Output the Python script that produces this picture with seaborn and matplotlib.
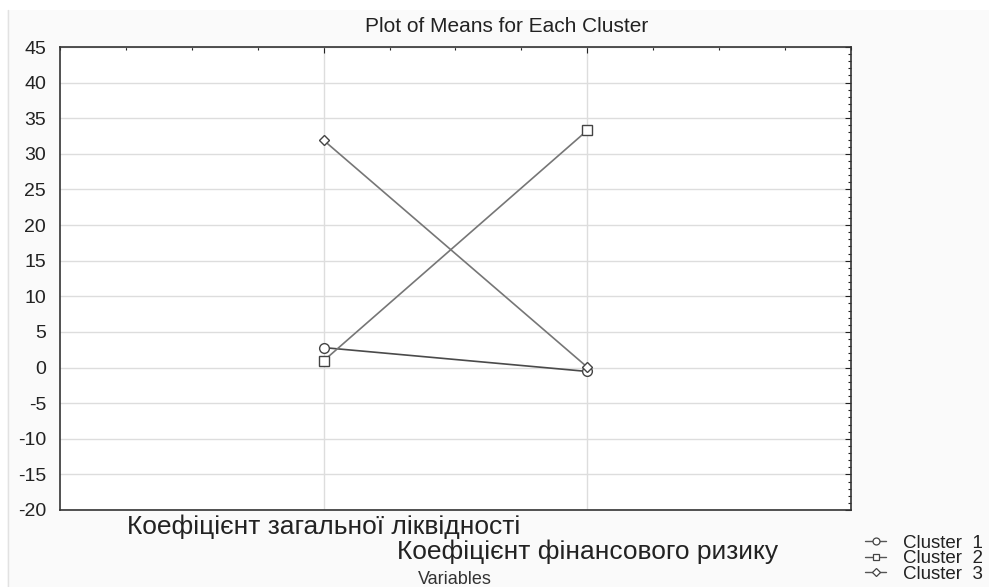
import numpy as np
import pandas as pd
import matplotlib
matplotlib.use('Agg')
import matplotlib.pyplot as plt
import matplotlib.transforms as mtransforms
from matplotlib.ticker import MultipleLocator
from matplotlib.patches import Rectangle
from matplotlib.lines import Line2D
import seaborn as sns

variables = ['Коефіцієнт загальної ліквідності', 'Коефіцієнт фінансового ризику']
clusters = ['Cluster  1', 'Cluster  2', 'Cluster  3']
cluster1 = [2.8, -0.55]
cluster2 = [0.95, 33.3]
cluster3 = [31.9, 0.05]
markers = ['o', 's', 'D']
line_colors = ['#4a4a4a', '#767676', '#767676']

sns.set_style('white')
plt.rcParams['font.family'] = ['Liberation Sans', 'DejaVu Sans']
plt.rcParams['axes.unicode_minus'] = False

rows = []
for name, vals in zip(clusters, [cluster1, cluster2, cluster3]):
    for i, v in enumerate(vals):
        rows.append({'cluster': name, 'pos': i, 'mean': v})
df = pd.DataFrame(rows)

W, H = 989, 587
fig = plt.figure(figsize=(W / 100, H / 100), dpi=100, facecolor='#fafafa')
# white strips at the top and left edge of the screenshot
fig.patches.append(Rectangle((0, 1 - 10 / H), 1, 10 / H, transform=fig.transFigure,
                             facecolor='white', edgecolor='none', zorder=0))
fig.patches.append(Rectangle((0, 0), 7 / W, 1, transform=fig.transFigure,
                             facecolor='white', edgecolor='none', zorder=0))
fig.lines.append(plt.Line2D([7.5 / W, 7.5 / W], [0, 1 - 10 / H], transform=fig.transFigure,
                            color='#e2e2e2', linewidth=1))

ax = fig.add_axes([60 / W, 1 - 510 / H, 791 / W, 463 / H])
ax.set_facecolor('white')

for name, mk, col in zip(clusters, markers, line_colors):
    sns.lineplot(x='pos', y='mean', data=df[df['cluster'] == name], ax=ax,
                 marker=mk, markersize=7 if mk != 'D' else 5.5, mfc='white', mec='#444444',
                 mew=1.0, color=col, linewidth=1.2, legend=False)

ax.set_xlim(-1, 2)
ax.set_ylim(-20, 45)
ax.yaxis.set_major_locator(MultipleLocator(5))
ax.yaxis.set_minor_locator(MultipleLocator(1))
ax.set_xticks([0, 1])
ax.xaxis.set_minor_locator(MultipleLocator(0.25))
ax.set_xticklabels(variables, fontsize=19)
ax.tick_params(axis='both', which='both', direction='in', top=True, right=True,
               color='#222222', width=0.8)
ax.tick_params(axis='both', which='major', length=4)
ax.tick_params(axis='both', which='minor', length=2.5)
ax.tick_params(axis='y', labelsize=14, pad=10, labelcolor='#222222')
ax.tick_params(axis='x', pad=3, labelcolor='#222222')

# second category label sits lower, as in the original
lab = ax.get_xticklabels()[1]
lab.set_transform(lab.get_transform() + mtransforms.ScaledTranslation(0, -25 / 100, fig.dpi_scale_trans))

ax.grid(axis='y', which='major', color='#dddddd', linewidth=1)
ax.grid(axis='x', which='major', color='#dddddd', linewidth=1)
for s in ax.spines.values():
    s.set_color('#333333')
    s.set_linewidth(1.2)

ax.set_xlabel('')
ax.set_ylabel('')
fig.text(455 / W, 1 - 579 / H, 'Variables', ha='center', va='center', fontsize=13, color='#333333')
fig.text(507 / W, 1 - 27 / H, 'Plot of Means for Each Cluster', ha='center', va='center',
         fontsize=15, color='#222222')

# legend with small markers, like the original
handles = [Line2D([], [], marker=mk, markersize=5 if mk != 'D' else 4, mfc='white', mec='#444444',
                  mew=0.9, color='#555555', linewidth=1.0) for mk in markers]
fig.legend(handles, clusters, loc='upper left', bbox_to_anchor=(856 / W, 1 - 525 / H),
           frameon=False, fontsize=13.5, handlelength=1.1, handletextpad=0.9,
           labelspacing=-0.08, borderpad=0, labelcolor='#222222')

fig.savefig('out.png', dpi=100, facecolor=fig.get_facecolor())
